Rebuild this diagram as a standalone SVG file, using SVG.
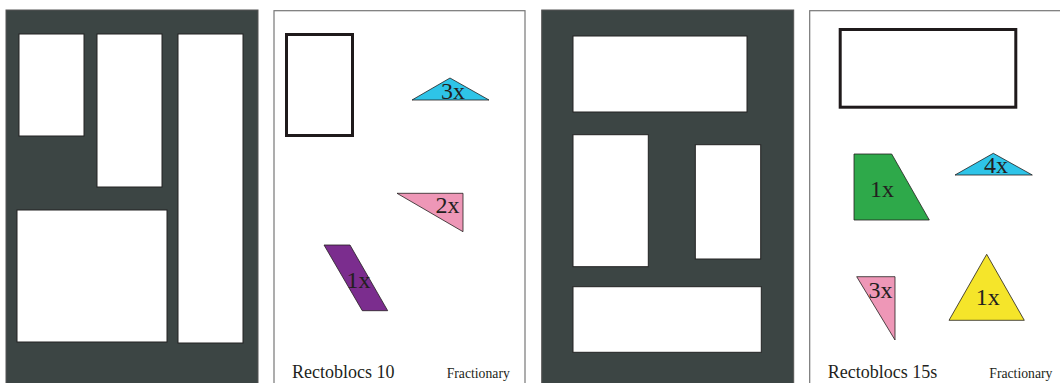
<svg xmlns="http://www.w3.org/2000/svg" width="1060" height="383" viewBox="0 0 1060 383">
<style>
.mat{fill:#3c4544;stroke:#555;stroke-width:1}
.hole{fill:#ffffff;stroke:#222;stroke-width:1}
.page{fill:#ffffff;stroke:#777;stroke-width:1.2}
.frame{fill:none;stroke:#1f1a1b;stroke-width:3}
.sh{stroke:#231f20;stroke-width:0.8;stroke-linejoin:miter}
.lbl{font-family:"Liberation Serif","Times New Roman",serif;font-size:24px;fill:#231f20;text-anchor:middle}
.title{font-family:"Liberation Serif","Times New Roman",serif;font-size:18px;fill:#231f20}
.small{font-family:"Liberation Serif","Times New Roman",serif;font-size:13.7px;fill:#231f20}
</style>
<rect width="1060" height="383" fill="#ffffff"/>
<g id="mat1">
<rect class="mat" x="6" y="10" width="252" height="380"/>
<rect class="hole" x="19" y="34" width="65" height="102"/>
<rect class="hole" x="97" y="34" width="65" height="153"/>
<rect class="hole" x="178" y="34" width="65" height="309"/>
<rect class="hole" x="17" y="210" width="150" height="132"/>
</g>
<g id="page1">
<rect class="page" x="274" y="10.7" width="251" height="380"/>
<rect class="frame" x="286.5" y="34.5" width="66" height="101"/>
<g id="p1-cyan"><polygon class="sh" fill="#2ec4e8" points="412,100 450,78 489,100"/><text class="lbl" x="453" y="99">3x</text></g>
<g id="p1-pink"><polygon class="sh" fill="#ee97b7" points="397,193.3 463,193.3 463,231.7"/><text class="lbl" x="447.5" y="213">2x</text></g>
<g id="p1-purple"><polygon class="sh" fill="#7b2d8e" points="324,245 350,245 387.7,310.7 362.3,310.7"/><text class="lbl" x="358.5" y="288">1x</text></g>
<text class="title" x="292" y="378">Rectoblocs 10</text>
<text class="small" x="446.7" y="378">Fractionary</text>
</g>
<g id="mat2">
<rect class="mat" x="541.7" y="10" width="252" height="380"/>
<rect class="hole" x="573" y="36" width="174" height="76"/>
<rect class="hole" x="573" y="134.7" width="75.3" height="132"/>
<rect class="hole" x="695.3" y="144.7" width="65.4" height="114.3"/>
<rect class="hole" x="573" y="286.7" width="188.3" height="65.6"/>
</g>
<g id="page2">
<rect class="page" x="809.7" y="10.7" width="260" height="380"/>
<rect class="frame" x="840.2" y="29.5" width="175.6" height="77.7"/>
<g id="p2-green"><polygon class="sh" fill="#2ea94a" points="854,154 891.7,154 929.3,220 854,220"/><text class="lbl" x="882" y="196.7">1x</text></g>
<g id="p2-cyan"><polygon class="sh" fill="#2ec4e8" points="955,175 993.3,153.3 1032.3,175"/><text class="lbl" x="996" y="173">4x</text></g>
<g id="p2-pink"><polygon class="sh" fill="#ee97b7" points="856.7,276.7 895,276.7 895,340"/><text class="lbl" x="880.4" y="298">3x</text></g>
<g id="p2-yellow"><polygon class="sh" fill="#f5e52a" points="949,320.3 986.7,254.3 1024.3,320.3"/><text class="lbl" x="987.8" y="305">1x</text></g>
<text class="title" x="827.7" y="378">Rectoblocs 15s</text>
<text class="small" x="989.3" y="378">Fractionary</text>
</g>
</svg>
